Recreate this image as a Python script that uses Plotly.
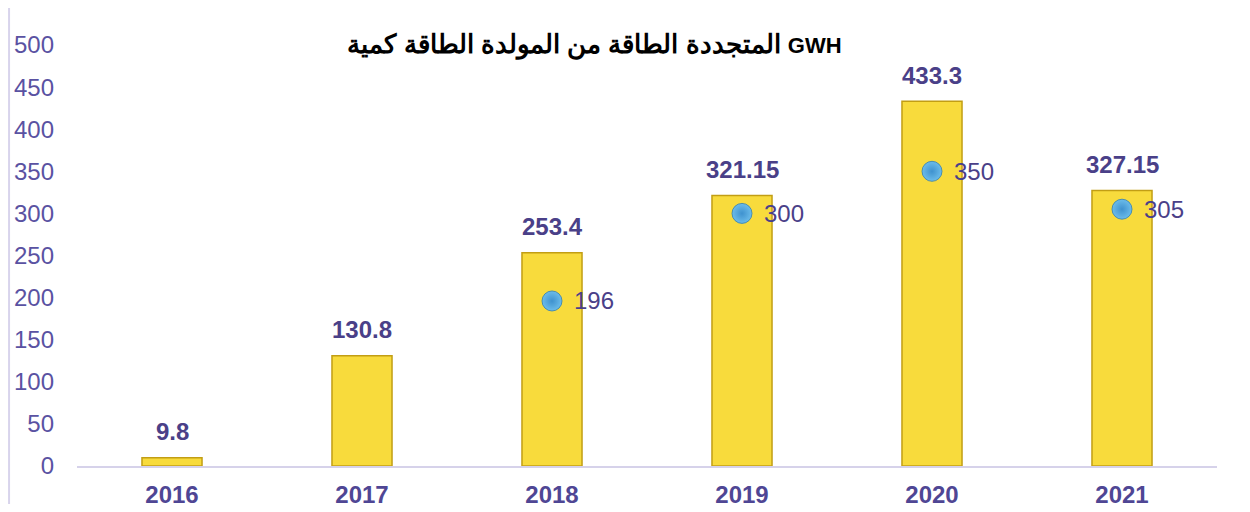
import plotly.graph_objects as go

years = ["2016", "2017", "2018", "2019", "2020", "2021"]
generated = [9.8, 130.8, 253.4, 321.15, 433.3, 327.15]
generated_labels = ["9.8", "130.8", "253.4", "321.15", "433.3", "327.15"]
marker_years = ["2018", "2019", "2020", "2021"]
marker_values = [196, 300, 350, 305]
marker_labels = ["196", "300", "350", "305"]
y_ticks = [0, 50, 100, 150, 200, 250, 300, 350, 400, 450, 500]

title_arabic = ["كمية", "الطاقة", "المولدة", "من", "الطاقة", "المتجددة"]
title_unit = "GWH"
# the reference shows the Arabic words laid out left-to-right; reversing the run
# makes the browser's right-to-left layout give that same visual order
title_text = (" ".join(reversed(title_arabic)) + " "
              + '<span style="font-size:22px">' + title_unit + "</span>")

LBL = "#4a4088"
FS = 24

fig = go.Figure()

fig.add_trace(go.Bar(
    x=years, y=generated,
    marker=dict(color="#F8DB3C", line=dict(color="#C29E14", width=1.5)),
    showlegend=False, hoverinfo="x+y",
))

fig.add_trace(go.Scatter(
    x=marker_years, y=marker_values, mode="markers",
    marker=dict(size=20, color="#6cbcea",
                gradient=dict(type="radial", color="#3f92cf"),
                line=dict(color="#2f7db5", width=0.8)),
    cliponaxis=False, showlegend=False,
))

for yr, v, t in zip(years, generated, generated_labels):
    fig.add_annotation(x=years.index(yr), y=v, text=t, showarrow=False, yshift=26,
                       font=dict(family="Liberation Sans", size=FS, color=LBL, weight="bold"))

for yr, v, t in zip(marker_years, marker_values, marker_labels):
    fig.add_annotation(x=years.index(yr), y=v, text=t, showarrow=False, xanchor="left", xshift=20,
                       font=dict(family="Liberation Sans", size=FS, color=LBL))

fig.update_layout(
    width=1234, height=496,
    margin=dict(l=69, r=25, t=37, b=38),
    paper_bgcolor="white", plot_bgcolor="white",
    bargap=0.684,
    title=dict(text=title_text, x=0.454, xref="paper", xanchor="center",
               y=1 - 36 / 496, yref="container", yanchor="middle",
               font=dict(family="Liberation Sans", size=26, color="black", weight="bold")),
    xaxis=dict(type="category", categoryorder="array", categoryarray=years,
               showgrid=False, showline=True, linecolor="#d6d2ea", linewidth=2,
               ticks="", ticklabelstandoff=6, automargin=False,
               tickfont=dict(family="Liberation Sans", size=FS, color="#4f4694", weight="bold")),
    yaxis=dict(range=[0, 500], tickvals=y_ticks, showgrid=False, zeroline=False, showline=False,
               ticks="", ticklabelstandoff=22, automargin=False,
               tickfont=dict(family="Liberation Sans", size=FS, color="#5a52a2")),
    shapes=[dict(type="line", xref="paper", yref="paper", x0=-0.0596, x1=-0.0596,
                 y0=-0.12, y1=1.12, line=dict(color="#d8d4ec", width=2))],
)

fig.write_html("out.html")
